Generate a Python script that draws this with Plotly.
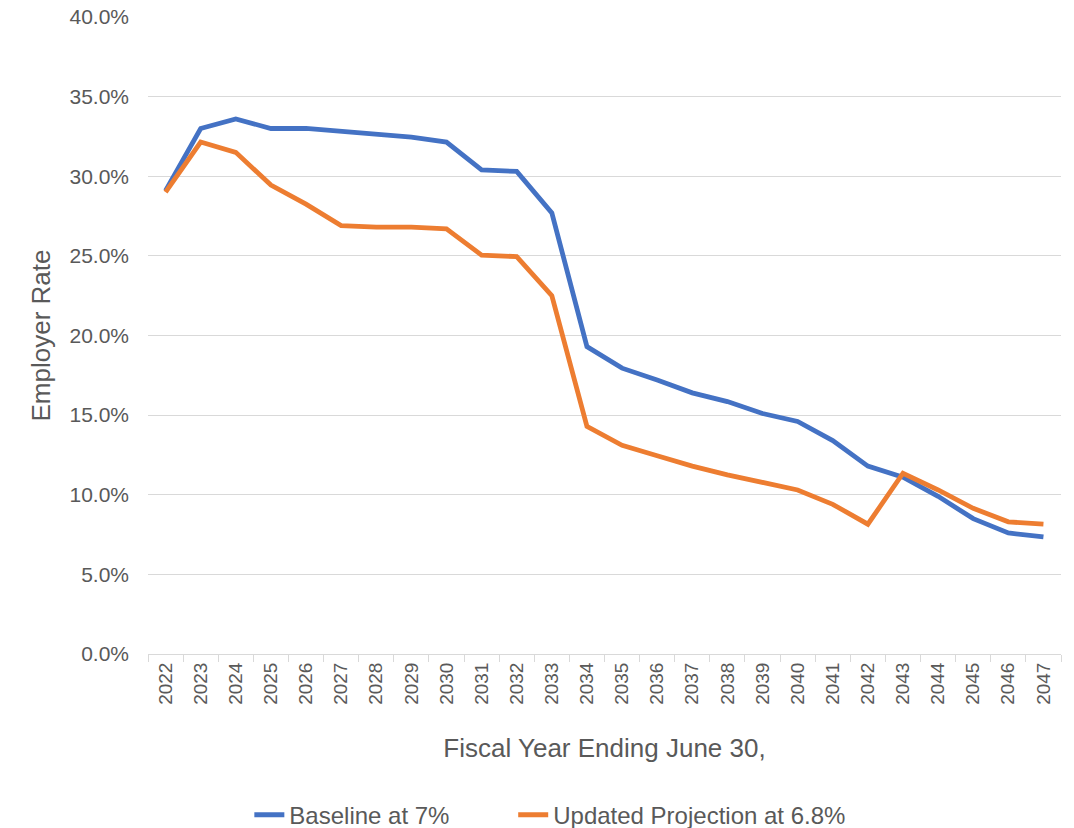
import plotly.graph_objects as go

# Fiscal years (ending June 30)
years = [str(y) for y in range(2022, 2048)]

# Employer contribution rate, % of payroll
baseline_7 = [29.1, 33.0, 33.6, 33.0, 33.0, 32.8, 32.6, 32.45, 32.15, 30.4,
              30.3, 27.7, 19.3, 17.95, 17.2, 16.4, 15.85, 15.1, 14.6, 13.4,
              11.8, 11.1, 9.9, 8.5, 7.6, 7.35]
updated_68 = [29.0, 32.15, 31.5, 29.45, 28.25, 26.9, 26.8, 26.8, 26.7, 25.05,
              24.95, 22.5, 14.3, 13.1, 12.45, 11.8, 11.25, 10.8, 10.3, 9.4,
              8.15, 11.35, 10.3, 9.15, 8.3, 8.15]

series_names = ["Baseline at 7%", "Updated Projection at 6.8%"]
series_colors = ["#4472C4", "#ED7D31"]
legend_ids = ["legend", "legend2"]

text_color = "#595959"
grid_color = "#D9D9D9"
font_family = "Liberation Sans, Arial, sans-serif"

fig = go.Figure()
for name, vals, color, lg in zip(series_names, [baseline_7, updated_68], series_colors, legend_ids):
    fig.add_trace(go.Scatter(
        x=years, y=vals, name=name, mode="lines",
        line=dict(color=color, width=4.8), legend=lg,
    ))

legend_style = dict(
    orientation="h", xanchor="left", y=-0.253, yanchor="middle",
    font=dict(size=24, color=text_color), bgcolor="rgba(0,0,0,0)",
)

fig.update_layout(
    width=1074, height=828,
    margin=dict(l=148, r=13, t=17, b=174, autoexpand=False),
    paper_bgcolor="white", plot_bgcolor="white",
    font=dict(family=font_family, color=text_color),
    showlegend=True,
    legend=dict(x=0.1110, **legend_style),
    legend2=dict(x=0.4000, **legend_style),
)

fig.update_xaxes(
    type="category",
    range=[-0.5, len(years) - 0.5],
    tickangle=-90,
    tickfont=dict(size=19, color=text_color),
    ticks="outside", tickson="boundaries", ticklen=7, tickcolor=grid_color,
    showline=True, linecolor=grid_color, linewidth=1,
    showgrid=False,
    title=dict(text="Fiscal Year Ending June 30,", font=dict(size=26, color=text_color), standoff=34),
    automargin=False,
)

fig.update_yaxes(
    range=[0, 40], dtick=5, tick0=0,
    tickformat=".1f", ticksuffix="%",
    tickfont=dict(size=21, color=text_color),
    ticks="", ticklabelstandoff=18,
    showgrid=True, gridcolor=grid_color, gridwidth=1,
    zeroline=False, showline=False,
    title=dict(text="Employer Rate", font=dict(size=26, color=text_color), standoff=11),
    automargin=False,
)

fig.write_html("out.html")
